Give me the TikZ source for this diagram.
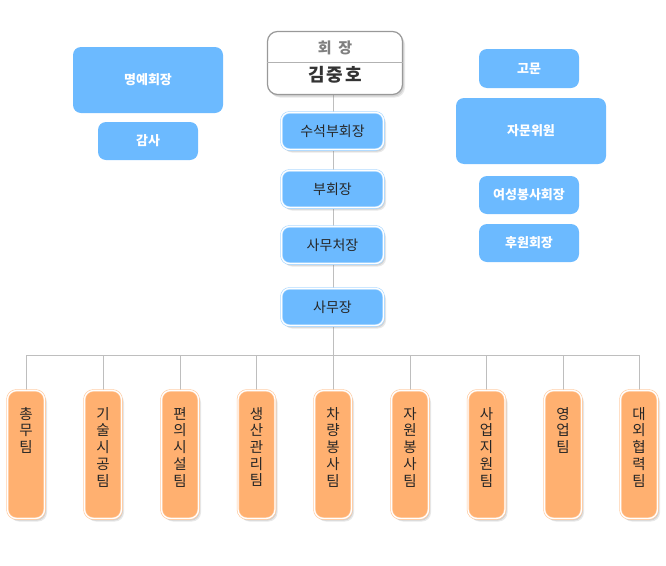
\documentclass[tikz,border=0pt]{standalone}
\usepackage{fontspec}
\newfontfamily\kr{Noto Sans CJK KR}
\usetikzlibrary{shadows,backgrounds}
\definecolor{bluefill}{RGB}{108,186,255}
\definecolor{orangefill}{RGB}{255,176,112}
\definecolor{linegray}{RGB}{190,190,190}
\begin{document}
\begin{tikzpicture}[x=1pt,y=-1pt,
  softshadow/.style={drop shadow={opacity=0.18,shadow xshift=2.5pt,shadow yshift=-3pt},drop shadow={opacity=0.2,shadow xshift=1.5pt,shadow yshift=-2pt}},
  side/.style={fill=bluefill,rounded corners=8pt,text=white,font=\kr\bfseries\fontsize{13}{15}\selectfont,inner sep=0pt,minimum width=100pt,minimum height=38pt},
  mid/.style={fill=bluefill,draw=bluefill!60,double=white,double distance=1.3pt,line width=0.6pt,rounded corners=8pt,font=\kr\fontsize{14}{15}\selectfont,text=black!85,inner sep=0pt,minimum width=102pt,minimum height=37pt,softshadow},
  team/.style={fill=orangefill,draw=orangefill!70,double=white,double distance=1.3pt,line width=0.6pt,rounded corners=9pt,inner sep=0pt,minimum width=37pt,minimum height=128pt,softshadow},
  teamtxt/.style={anchor=north,inner sep=0pt,align=center,font=\kr\fontsize{14.5}{16.7}\selectfont,text=black!85},
  conn/.style={draw=linegray,line width=0.8pt}
]
\useasboundingbox (0,0) rectangle (666,565);
% chairman
\node[draw=black!40,line width=1.2pt,fill=white,rounded corners=10pt,minimum width=135pt,minimum height=63pt,inner sep=0pt,softshadow] (chair) at (335,63) {};
\draw[black!30,line width=0.8pt] (chair.west |- 0,62) coordinate (dl) -- (chair.east |- 0,62) coordinate (dr);
\node[font=\kr\bfseries\fontsize{15}{16}\selectfont,text=black!50] (chairt) at (335,48) {회\hspace{0.45em}장};
\node[font=\kr\bfseries\fontsize{18}{20}\selectfont,text=black!80] (chairn) at (335,75) {김\hspace{0.12em}중\hspace{0.12em}호};
% left
\node[side,minimum width=150pt,minimum height=66pt] (hon) at (148,80) {명예회장};
\node[side] (aud) at (148,141) {감사};
% right
\node[side,minimum height=39pt] (adv) at (529,68.5) {고문};
\node[side,minimum width=150pt,minimum height=66pt] (advc) at (531,131) {자문위원};
\node[side] (wom) at (529,195) {여성봉사회장};
\node[side] (spo) at (529,243) {후원회장};
% middle
\node[mid] (b1) at (332.5,131) {수석부회장};
\node[mid] (b2) at (332.5,189) {부회장};
\node[mid] (b3) at (332.5,245) {사무처장};
\node[mid] (b4) at (332.5,307) {사무장};
\coordinate (bus) at (333,355);
% teams
\foreach \i/\x/\t in {1/26/{총\\무\\팀},2/103/{기\\술\\시\\공\\팀},3/180/{편\\의\\시\\설\\팀},4/256.5/{생\\산\\관\\리\\팀},5/333/{차\\량\\봉\\사\\팀},6/410/{자\\원\\봉\\사\\팀},7/486.5/{사\\업\\지\\원\\팀},8/563/{영\\업\\팀},9/639/{대\\외\\협\\력\\팀}}{
  \node[team] (t\i) at (\x,454.5) {};
  \node[teamtxt] (t\i l) at (\x,407) {\t};
}
\begin{scope}[on background layer]
\draw[conn] (chair.south -| bus) -- (b1.north -| bus);
\draw[conn] (b1.south -| bus) -- (b2.north -| bus);
\draw[conn] (b2.south -| bus) -- (b3.north -| bus);
\draw[conn] (b3.south -| bus) -- (b4.north -| bus);
\draw[conn] (b4.south -| bus) -- (bus);
\draw[conn] (t1.north |- bus) -- (t9.north |- bus);
\foreach \i in {1,...,9}{\draw[conn] (t\i.north |- bus) -- (t\i.north);}
\end{scope}
\end{tikzpicture}
\end{document}
